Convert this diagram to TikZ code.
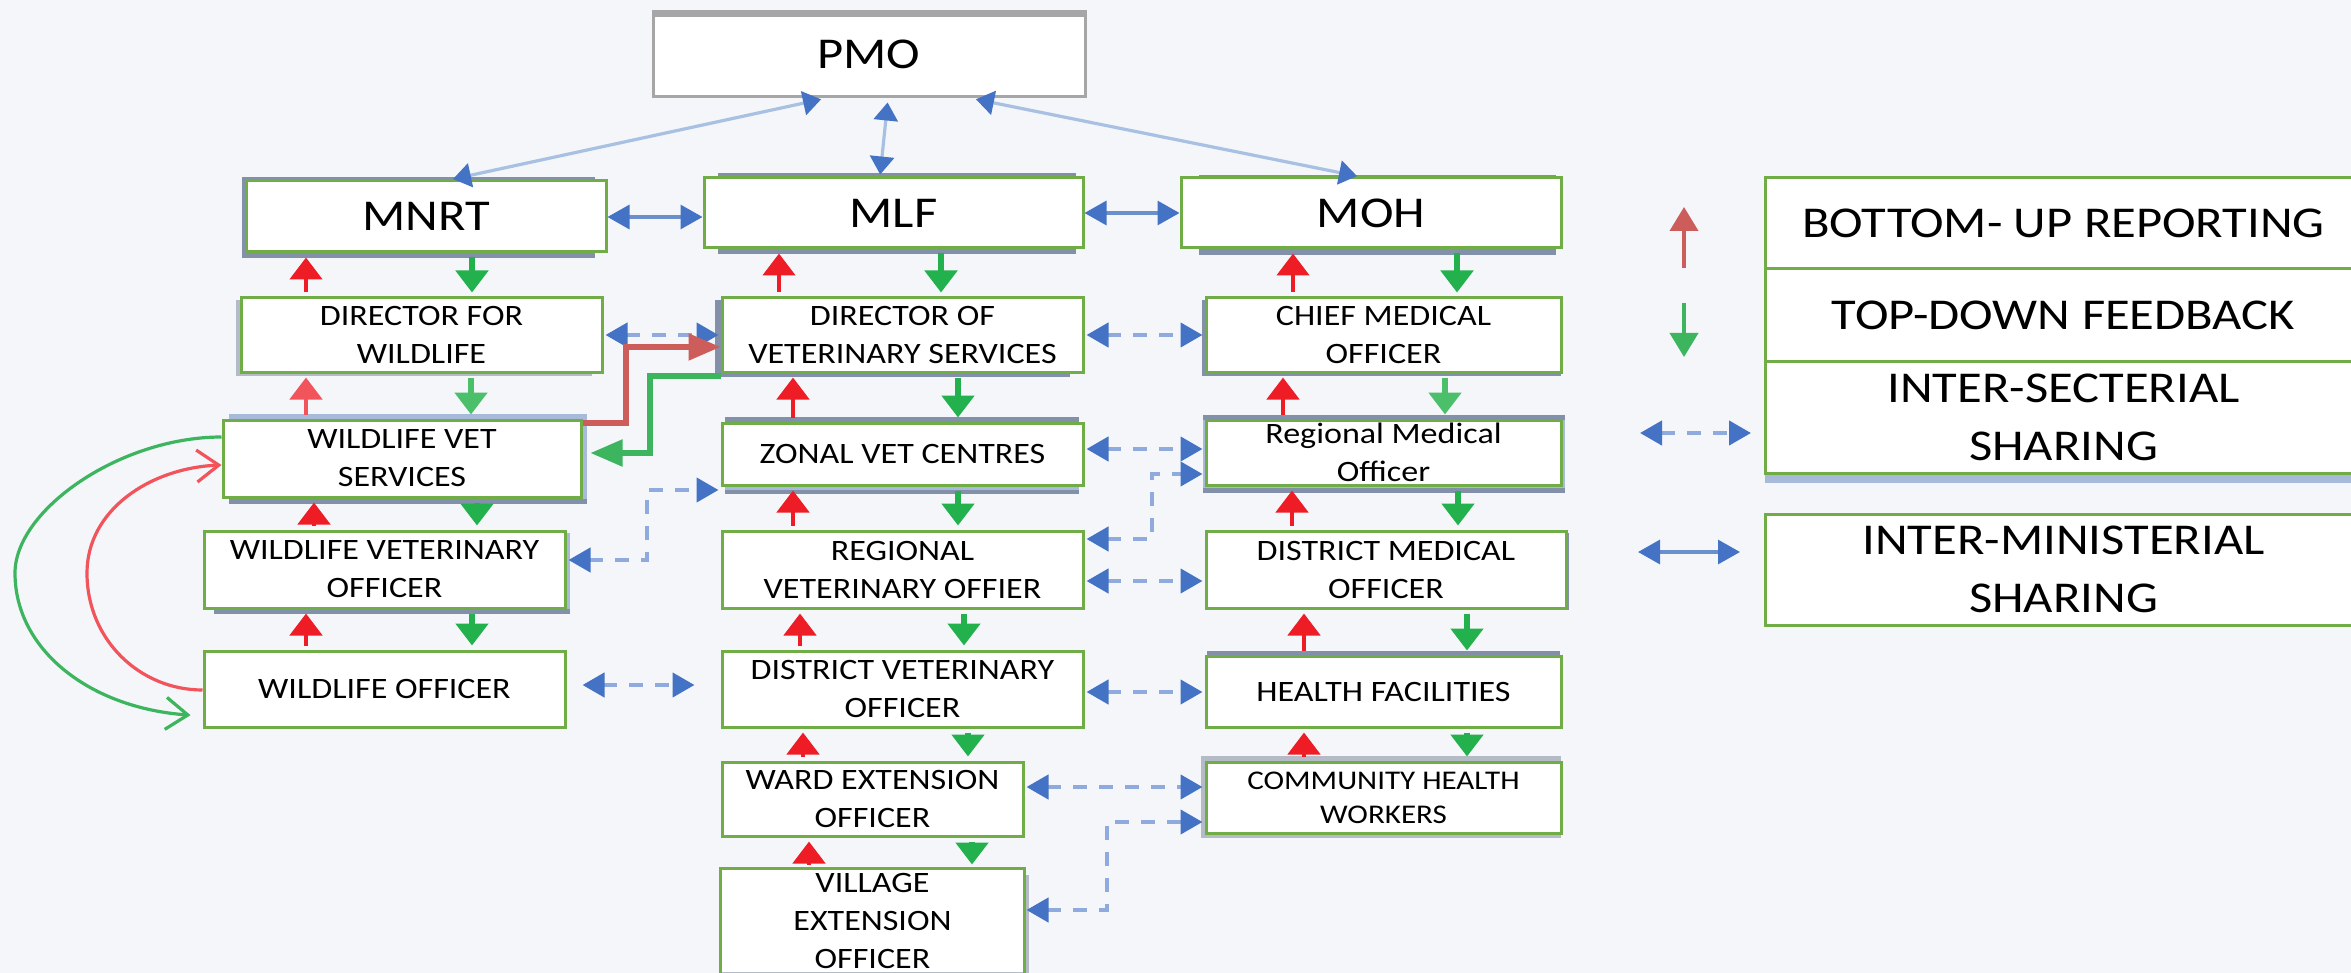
\documentclass[tikz,border=0pt]{standalone}
\usepackage{fontspec}
\setmainfont{Carlito}[FakeStretch=1.15]
\usetikzlibrary{arrows.meta}
\definecolor{bg}{HTML}{F4F6FA}
\definecolor{bgreen}{HTML}{70AD47}
\definecolor{redA}{HTML}{EE1C25}
\definecolor{redL}{HTML}{F2545B}
\definecolor{greenA}{HTML}{22B14C}
\definecolor{greenL}{HTML}{4CBF6B}
\definecolor{redM}{HTML}{CC5D5B}
\definecolor{greenM}{HTML}{3DB45E}
\definecolor{bhead}{HTML}{4472C4}
\definecolor{bdash}{HTML}{8FAADC}
\definecolor{bsolid}{HTML}{6A8FCB}
\definecolor{bpmo}{HTML}{A8C0E2}
\definecolor{slate}{HTML}{8290AA}
\definecolor{lblue}{HTML}{A7BADA}
\definecolor{lgray}{HTML}{B4BAC6}
\definecolor{pgray}{HTML}{A6A6A6}
\newcommand\fsbig{\fontsize{22}{29}\selectfont}
\newcommand\fssm{\fontsize{14.8}{19}\selectfont}
\newcommand\fschw{\fontsize{13.5}{17}\selectfont}
\newcommand\bx[7][]{%
  \pgfmathsetmacro\bw{(#5-#3)*0.5}\pgfmathsetmacro\bh{(#6-#4)*0.5}%
  \node[box,#1,minimum width=\bw pt,minimum height=\bh pt] (#2) at ({(#3+#5)/2},{(#4+#6)/2}) {#7};}
\newcommand\shd[3]{\fill[#1] (#2) rectangle (#3);}
\tikzset{
  box/.style={draw=bgreen, line width=1.5pt, fill=white, align=center, inner sep=0pt, font=\fssm, text=black},
  big/.style={font=\fsbig},
  uparr/.style={draw=redA, line width=2.4pt, -{Triangle[width=16pt,length=11pt]}, shorten <=2pt, shorten >=2pt},
  dnarr/.style={draw=greenA, line width=2.6pt, -{Triangle[width=16pt,length=11pt]}, shorten <=2pt, shorten >=2pt},
  dsh/.style={draw=bdash, line width=2.2pt, dash pattern=on 7pt off 6pt,
    {Triangle[width=12pt,length=11pt,color=bhead]}-{Triangle[width=12pt,length=11pt,color=bhead]}, shorten <=1pt, shorten >=1pt},
  mini/.style={draw=bsolid, line width=1.6pt,
    {Triangle[width=12pt,length=11pt,color=bhead]}-{Triangle[width=12pt,length=11pt,color=bhead]}},
  pmoar/.style={draw=bpmo, line width=1.6pt,
    {Triangle[width=12pt,length=9pt,color=bhead]}-{Triangle[width=12pt,length=9pt,color=bhead]}, shorten <=2pt, shorten >=1pt},
  elbr/.style={draw=redM, line width=2.6pt, -{Triangle[width=13pt,length=16pt]}},
  elbg/.style={draw=greenM, line width=2.6pt, -{Triangle[width=13pt,length=16pt]}},
  curvr/.style={draw=redL, line width=1.6pt, -{Straight Barb[width=16pt,length=11pt,line width=1.6pt]}},
  curvg/.style={draw=greenM, line width=1.6pt, -{Straight Barb[width=16pt,length=11pt,line width=1.6pt]}},
}
\begin{document}
\begin{tikzpicture}[x=0.5pt,y=-0.5pt]
\useasboundingbox (0,0) rectangle (2351,973);
\clip (0,0) rectangle (2351,973);
\fill[bg] (0,0) rectangle (2351,973);
% shadows
\shd{slate}{242,177}{595,258}
\shd{slate}{718,173}{1076,254}
\shd{slate}{1199,175}{1556,255}
\shd{lgray}{236,300}{592,376}
\shd{slate}{715,300}{1070,377}
\shd{slate}{1202,300}{1561,376}
\shd{lblue}{229,414}{587,504}
\shd{slate}{229,499}{587,504}
\shd{lblue}{725,417}{1079,494}
\shd{slate}{725,417}{1079,423}
\shd{slate}{725,490}{1079,494}
\shd{lblue}{1203,415}{1565,493}
\shd{slate}{1203,415}{1565,420}
\shd{slate}{1203,488}{1565,493}
\shd{lblue}{214,533}{570,614}
\shd{slate}{214,609}{570,614}
\shd{slate}{1206,533}{1569,610}
\shd{slate}{1207,651}{1560,660}
\shd{lgray}{1201,756}{1561,838}
\shd{lgray}{722,875}{1029,980}
\shd{lblue}{1765,470}{2362,483}
% boxes
\bx[draw=pgray]{pmo}{653}{12}{1085}{97}{\fsbig PMO}
\shd{pgray}{652,11}{1086,17}
\bx[big]{mnrt}{246}{181}{606}{252}{MNRT}
\bx[big]{mlf}{704}{178}{1083}{248}{MLF}
\bx[big]{moh}{1181}{178}{1561}{248}{MOH}
\bx{dfw}{241}{298}{602}{372}{DIRECTOR FOR\\WILDLIFE}
\bx{dvs}{722}{298}{1083}{372}{DIRECTOR OF\\VETERINARY SERVICES}
\bx{cmo}{1206}{298}{1561}{372}{CHIEF MEDICAL\\OFFICER}
\bx{wvs}{223}{420}{581}{497}{WILDLIFE VET\\SERVICES}
\bx{zvc}{722}{423}{1083}{485}{ZONAL VET CENTRES}
\bx{rmo}{1206}{420}{1561}{485}{Regional Medical\\Officer}
\bx{wvo}{204}{531}{565}{608}{WILDLIFE VETERINARY\\OFFICER}
\bx{rvo}{722}{531}{1083}{608}{REGIONAL\\VETERINARY OFFIER}
\bx{dmo}{1206}{531}{1566}{608}{DISTRICT MEDICAL\\OFFICER}
\bx{wo}{204}{651}{565}{727}{WILDLIFE OFFICER}
\bx{dvo}{722}{651}{1083}{727}{DISTRICT VETERINARY\\OFFICER}
\bx{hf}{1206}{656}{1561}{727}{HEALTH FACILITIES}
\bx{weo}{722}{762}{1023}{836}{WARD EXTENSION\\OFFICER}
\bx[font=\fschw]{chw}{1206}{762}{1561}{833}{COMMUNITY HEALTH\\WORKERS}
\bx[draw=none]{veo}{722}{870}{1023}{972}{VILLAGE\\EXTENSION\\OFFICER}
\draw[draw=bgreen, line width=1.5pt] ([yshift=-20pt]veo.south west) -- (veo.north west) -- (veo.north east) -- ([yshift=-20pt]veo.south east);
% legend boxes
\bx[big]{lg1}{1765}{178}{2362}{269}{BOTTOM- UP REPORTING}
\bx[big]{lg2}{1765}{269}{2362}{361}{TOP-DOWN FEEDBACK}
\bx[big]{lg3}{1765}{361}{2362}{473}{INTER-SECTERIAL\\SHARING}
\bx[big]{lg4}{1765}{514}{2362}{625}{INTER-MINISTERIAL\\SHARING}
% PMO links
\draw[pmoar] (pmo.south -| 825,0) -- (mnrt.north -| 451,0);
\draw[pmoar] (pmo.south -| 888,0) -- (mlf.north -| 880,0);
\draw[pmoar] (pmo.south -| 972,0) -- (moh.north -| 1359,0);
% inter-ministerial
\draw[mini] (mnrt.east |- 0,217) -- (mlf.west |- 0,217);
\draw[mini] (mlf.east |- 0,213) -- (moh.west |- 0,213);
% vertical reporting / feedback
\draw[uparr] (dfw.north -| 306,0) -- (mnrt.south -| 306,0);
\draw[dnarr] (mnrt.south -| 472,0) -- (dfw.north -| 472,0);
\draw[uparr] (dvs.north -| 779,0) -- (mlf.south -| 779,0);
\draw[dnarr] (mlf.south -| 941,0) -- (dvs.north -| 941,0);
\draw[uparr] (cmo.north -| 1293,0) -- (moh.south -| 1293,0);
\draw[dnarr] (moh.south -| 1457,0) -- (cmo.north -| 1457,0);
\draw[uparr,draw=redL] (wvs.north -| 306,0) -- (dfw.south -| 306,0);
\draw[dnarr,draw=greenL] (dfw.south -| 471,0) -- (wvs.north -| 471,0);
\draw[uparr] (zvc.north -| 793,0) -- (dvs.south -| 793,0);
\draw[dnarr] (dvs.south -| 958,0) -- (zvc.north -| 958,0);
\draw[uparr] (rmo.north -| 1283,0) -- (cmo.south -| 1283,0);
\draw[dnarr,draw=greenL] (cmo.south -| 1445,0) -- (rmo.north -| 1445,0);
\draw[uparr] (wvo.north -| 314,0) -- (wvs.south -| 314,0);
\draw[dnarr] (wvs.south -| 477,0) -- (wvo.north -| 477,0);
\draw[uparr] (wo.north -| 306,0) -- (wvo.south -| 306,0);
\draw[dnarr] (wvo.south -| 472,0) -- (wo.north -| 472,0);
\draw[uparr] (rvo.north -| 793,0) -- (zvc.south -| 793,0);
\draw[dnarr] (zvc.south -| 958,0) -- (rvo.north -| 958,0);
\draw[uparr] (dvo.north -| 800,0) -- (rvo.south -| 800,0);
\draw[dnarr] (rvo.south -| 964,0) -- (dvo.north -| 964,0);
\draw[uparr] (weo.north -| 803,0) -- (dvo.south -| 803,0);
\draw[dnarr] (dvo.south -| 968,0) -- (weo.north -| 968,0);
\draw[uparr] (veo.north -| 809,0) -- (weo.south -| 809,0);
\draw[dnarr] (weo.south -| 972,0) -- (veo.north -| 972,0);
\draw[uparr] (dmo.north -| 1292,0) -- (rmo.south -| 1292,0);
\draw[dnarr] (rmo.south -| 1458,0) -- (dmo.north -| 1458,0);
\draw[uparr] (hf.north -| 1304,0) -- (dmo.south -| 1304,0);
\draw[dnarr] (dmo.south -| 1467,0) -- (hf.north -| 1467,0);
\draw[uparr] (chw.north -| 1304,0) -- (hf.south -| 1304,0);
\draw[dnarr] (hf.south -| 1467,0) -- (chw.north -| 1467,0);
% inter-sectoral dashed
\draw[dsh] (dfw.east |- 0,335) -- (dvs.west |- 0,335);
\draw[dsh] (dvs.east |- 0,335) -- (cmo.west |- 0,335);
\draw[dsh] (zvc.east |- 0,449) -- (rmo.west |- 0,449);
\draw[dsh] (wvo.east |- 0,560) -- (647,560) -- (647,490) -- (zvc.west |- 0,490);
\draw[dsh] (rvo.east |- 0,539) -- (1152,539) -- (1152,474) -- (rmo.west |- 0,474);
\draw[dsh] (rvo.east |- 0,581) -- (dmo.west |- 0,581);
\draw[dsh, shorten <=8pt, shorten >=13pt] (wo.east |- 0,685) -- (dvo.west |- 0,685);
\draw[dsh] (dvo.east |- 0,692) -- (hf.west |- 0,692);
\draw[dsh] (weo.east |- 0,787) -- (chw.west |- 0,787);
\draw[dsh] (veo.east |- 0,910) -- (1107,910) -- (1107,822) -- (chw.west |- 0,822);
% elbow links between wildlife and veterinary services
\draw[elbr] (wvs.east |- 0,423) -- (626,423) -- (626,347) -- (dvs.west |- 0,347);
\draw[elbg, shorten >=4pt] (dvs.west |- 0,376) -- (650,376) -- (650,453) -- (wvs.east |- 0,453);
% curved loops
\draw[curvg, shorten >=6pt] (wvs.west |- 0,437) .. controls (120,437) and (15,510) .. (15,573) .. controls (15,650) and (90,708) .. (wo.west |- 0,716);
\draw[curvr] (wo.west |- 0,690) .. controls (140,690) and (87,640) .. (87,573) .. controls (87,510) and (150,468) .. (wvs.west |- 0,465);
% legend arrows
\coordinate (l1a) at (1684,268); \coordinate (l1b) at (1684,207);
\coordinate (l2a) at (1684,303); \coordinate (l2b) at (1684,357);
\coordinate (l3a) at (1638,433); \coordinate (l3b) at (1753,433);
\coordinate (l4a) at (1638,552); \coordinate (l4b) at (1740,552);
\draw[draw=redM, line width=2pt, -{Triangle[width=14pt,length=12pt]}] (l1a) -- (l1b);
\draw[draw=greenM, line width=2pt, -{Triangle[width=14pt,length=12pt]}] (l2a) -- (l2b);
\draw[dsh] (l3a) -- (l3b);
\draw[mini] (l4a) -- (l4b);
\end{tikzpicture}
\end{document}
